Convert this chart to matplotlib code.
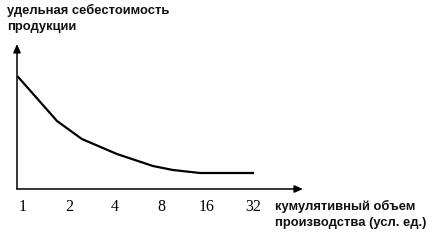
import numpy as np
import matplotlib.pyplot as plt

# кумулятивный объем (усл. ед.) и удельная себестоимость (усл.)
volume = [0.93, 1.67, 2.43, 4.12, 7.09, 9.58, 14.4, 32.0]
unit_cost = [11.2, 6.8, 5.0, 3.5, 2.3, 1.9, 1.6, 1.6]
tick_vals = [1, 2, 4, 8, 16, 32]
tick_labels = ['1', '2', '4', '8', '16', '32']

W, H = 434, 240
fig = plt.figure(figsize=(W / 100, H / 100), dpi=100)
ax = fig.add_axes([17 / W, (H - 189) / H, (303 - 17) / W, (189 - 44) / H])

ax.plot(volume, unit_cost, color='black', lw=1.6, solid_joinstyle='round')
ax.set_xscale('log', base=2)
ax.set_xlim(2 ** -0.13, 2 ** 6.09)
ax.set_ylim(0, 14.5)

for s in ax.spines.values():
    s.set_visible(False)
ax.set_yticks([])
ax.set_xticks(tick_vals)
ax.set_xticklabels(tick_labels, family='Liberation Serif', fontsize=11.5)
ax.minorticks_off()
ax.tick_params(axis='x', length=0, pad=7)

# оси со стрелками
arrow = dict(arrowstyle='-|>,head_length=0.5,head_width=0.22', color='black', lw=1.1,
             shrinkA=0, shrinkB=0)
ax.annotate('', xy=(0, 1), xytext=(0, 0), xycoords='axes fraction', arrowprops=arrow)
ax.annotate('', xy=(1, 0), xytext=(0, 0), xycoords='axes fraction', arrowprops=arrow)

lbl = dict(family='Liberation Sans', fontweight='bold', fontsize=9.4, color='#111111')
fig.text(7 / W, 1 - 4 / H, 'удельная себестоимость\nпродукции', va='top', ha='left',
         linespacing=1.4, **lbl)
fig.text(275 / W, 1 - 200 / H, 'кумулятивный объем\nпроизводства (усл. ед.)', va='top',
         ha='left', linespacing=1.4, **lbl)

fig.savefig('out.png', dpi=100)
